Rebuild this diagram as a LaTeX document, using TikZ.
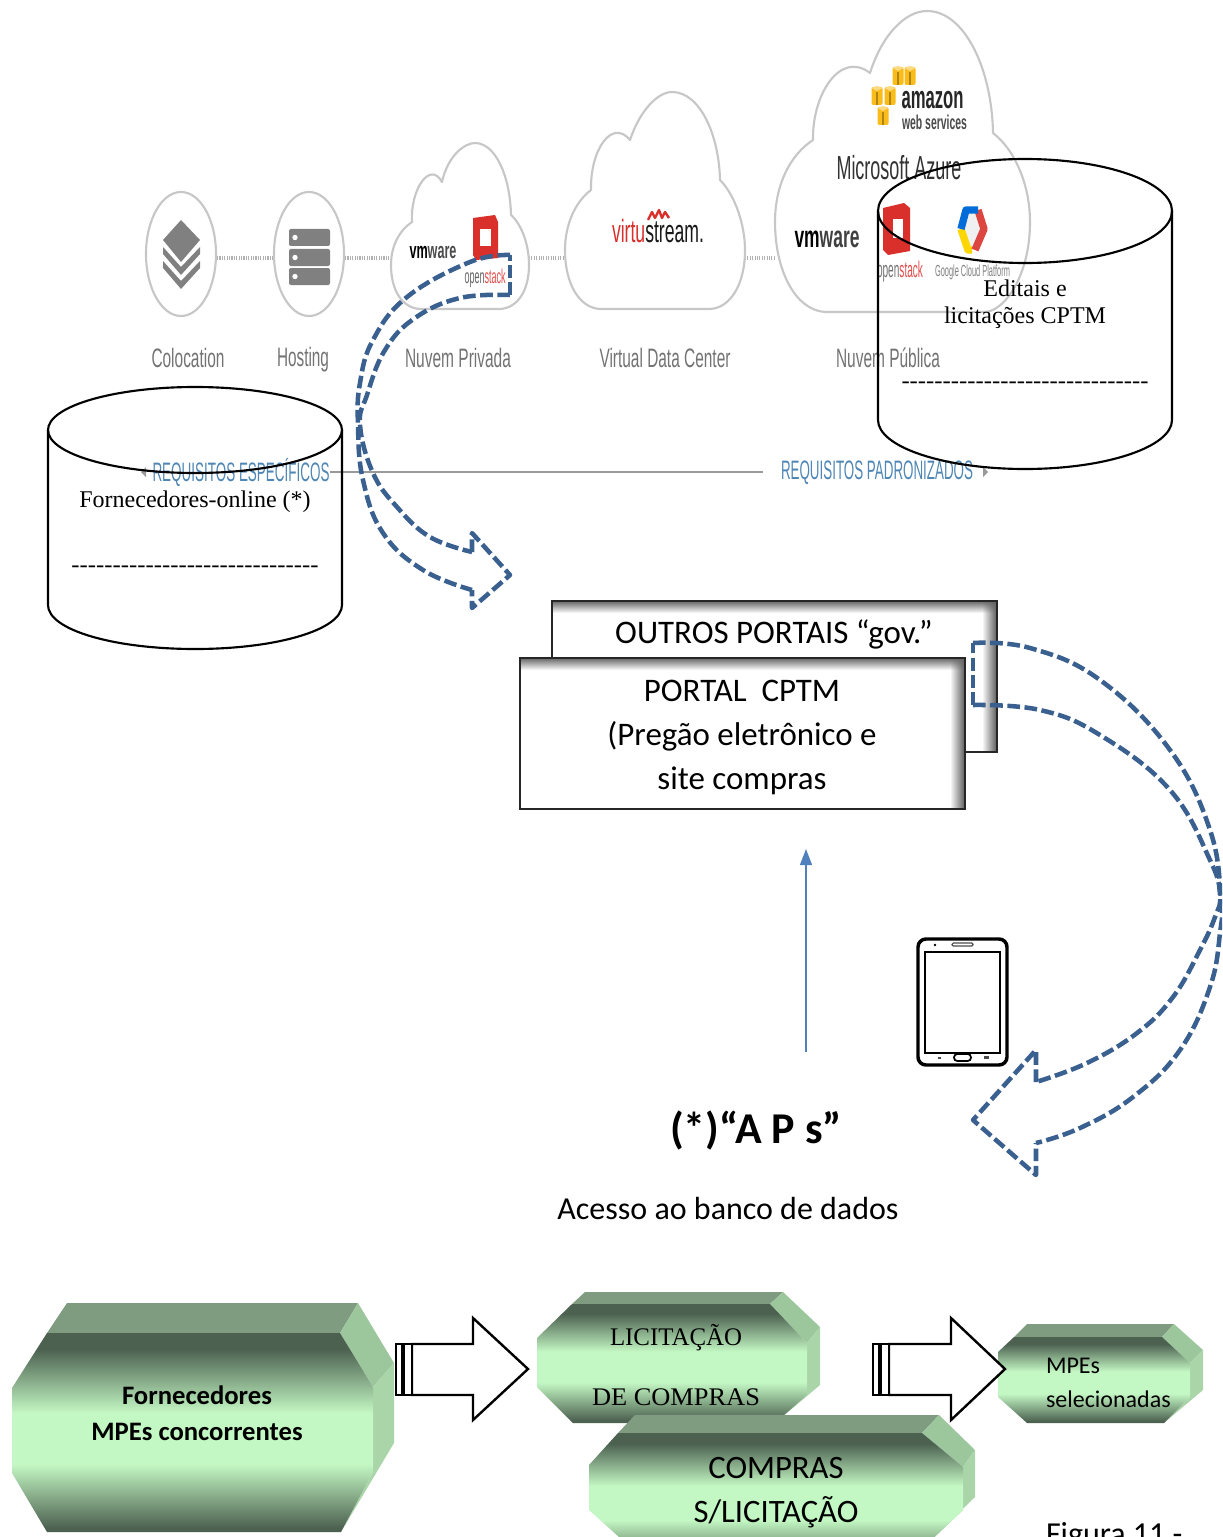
\documentclass[tikz,border=0pt]{standalone}
\usepackage{fontspec}
\usepackage{graphicx}
\setmainfont{Liberation Serif}
\newfontfamily\plainser{Liberation Serif}
\newfontfamily\carf{Carlito}
\newfontfamily\helv{Liberation Sans}
\usetikzlibrary{shapes.geometric,arrows.meta,fadings}
\newlength\pxu \setlength\pxu{0.75pt}
\newcommand\fw[2]{\resizebox{#1\pxu}{\height}{#2}}
\newcommand\fsz[1]{\fontsize{#1}{#1}\selectfont}
\definecolor{blued}{HTML}{3A6090}
\definecolor{reqblue}{HTML}{4F86B4}
\definecolor{arrowblue}{HTML}{4F81BD}
\definecolor{gemdark}{HTML}{4C6150}
\definecolor{gemlight}{HTML}{C3F7C3}
\definecolor{gemband}{HTML}{7F9C80}
\definecolor{gemfacet}{HTML}{9CC79D}
\definecolor{gemright}{HTML}{A9D5A9}
\definecolor{osred}{HTML}{D9302C}
\definecolor{amz}{HTML}{F9BC1A}
\pgfdeclareverticalshading{gemshade}{100bp}{
 color(0bp)=(gemdark); color(26bp)=(gemdark); color(42bp)=(gemlight); color(55bp)=(gemlight); color(71bp)=(gemdark); color(100bp)=(gemdark)}
\tikzset{
 txt/.style={inner sep=0pt,outer sep=0pt},
 cloudline/.style={draw=black!22,line width=1.6pt,fill=white,line join=round},
 pill/.style={ellipse,draw=black!22,line width=1.6pt,minimum width=70*\pxu,minimum height=124*\pxu,inner sep=0pt},
 dotline/.style={draw=black!30,line width=3pt,dash pattern=on 0.8pt off 1pt},
 greylabel/.style={txt,text=black!55,font=\helv\fsz{20}},
 reqlabel/.style={txt,text=reqblue,font=\helv\fsz{20}},
 cyl/.style={draw=black,line width=1.6pt},
 ser/.style={txt,font=\fsz{18}},
 hyph/.style={txt,font=\plainser\fsz{18}},
 bluedash/.style={draw=blued,line width=3.4pt,dash pattern=on 9.5pt off 3.4pt},
 cal/.style={txt,font=\carf\fsz{24.7}},
 boxline/.style={draw=black!85,line width=1.6pt},
 blockarrow/.style={draw=black,line width=1.8pt,fill=white,line join=miter},
 cube/.style={fill=amz},
}
\newcommand\cubeat[2]{\fill[cube,rounded corners=1.5pt] (#1-5.5,#2-9) rectangle (#1+5.5,#2+9);
 \fill[amz!70!black] (#1-0.7,#2-4) rectangle (#1+0.7,#2+9);
 \fill[amz!55!white] (#1-5.5,#2-8) -- (#1,#2-10) -- (#1+5.5,#2-8) -- (#1,#2-5) -- cycle;}
\begin{document}
\begin{tikzpicture}[x=0.75pt,y=-0.75pt]
\useasboundingbox (0,0) rectangle (1222,1537);
\clip (0,0) rectangle (1222,1537);

% ---- background cloud-service picture
\node[pill] (colo) at (181,254) {};
\node[pill] (host) at (309,254) {};
\coordinate (cAw) at (391,258); \coordinate (cAe) at (529,258);
\coordinate (cBw) at (565,258); \coordinate (cBe) at (745,258);
\coordinate (cCw) at (775,258);
\draw[dotline] (colo.east |- cAw) -- (host.west |- cAw);
\draw[dotline] (host.east |- cAw) -- (cAw);
\draw[dotline] (cAe) -- (cBw);
\draw[dotline] (cBe) -- (cCw);

% private cloud
\path[cloudline] (412,222) .. controls (410,190) and (430,160) .. (442,182)
 .. controls (448,155) and (465,143) .. (475,143)
 .. controls (495,143) and (510,175) .. (511,215)
 .. controls (522,225) and (529,245) .. (529,265)
 .. controls (529,290) and (518,308) .. (500,309) -- (420,309)
 .. controls (402,308) and (391,290) .. (391,265)
 .. controls (391,245) and (400,230) .. (412,222) -- cycle;
% VDC cloud
\path[cloudline] (591,190) .. controls (590,150) and (612,118) .. (630,140)
 .. controls (640,110) and (658,92) .. (672,92)
 .. controls (700,92) and (719,135) .. (720,180)
 .. controls (735,195) and (745,225) .. (745,250)
 .. controls (745,285) and (730,308) .. (710,309) -- (600,309)
 .. controls (580,308) and (565,285) .. (565,250)
 .. controls (565,225) and (575,202) .. (591,190) -- cycle;
% public cloud
\path[cloudline] (813,140) .. controls (812,95) and (840,50) .. (870,73)
 .. controls (882,35) and (905,11) .. (927,11)
 .. controls (965,11) and (992,70) .. (993,133)
 .. controls (1015,150) and (1030,185) .. (1030,222)
 .. controls (1030,275) and (1005,311) .. (985,312) -- (825,312)
 .. controls (795,310) and (775,270) .. (775,222)
 .. controls (775,185) and (790,155) .. (813,140) -- cycle;

% stack icon
\fill[black!50] (181,220) -- (200,240) -- (181,262) -- (163,240) -- cycle;
\fill[black!50] (163,247) -- (181,267) -- (200,247) -- (200,254) -- (181,275) -- (163,254) -- cycle;
\fill[black!50] (163,261) -- (181,281) -- (200,261) -- (200,268) -- (181,289) -- (163,268) -- cycle;
% server icon
\foreach \yy in {229,249,268}{
 \fill[black!50,rounded corners=1.5pt] (289,\yy) rectangle (330,\yy+17);
 \fill[white] (295,\yy+8.5) circle [radius=2pt];}

% logos - private
\node[txt] (vmA) at (433,253) {\fw{47}{\helv\fsz{17}\textbf{vm\textcolor{black!70}{ware}}}};
\path[fill=osred] (473,218) -- (495,215) -- (498,222) -- (498,258) -- (476,260) -- (473,255) -- cycle;
\fill[white] (480,229) rectangle (491,246);
\node[txt] (osA) at (485,278) {\fw{41}{\helv\fsz{15}\textcolor{black!60}{open}\textcolor{osred!85}{stack}}};
% virtustream
\node[txt] (vs) at (658,231) {\fw{92}{\helv\fsz{24}\textcolor{osred}{virtu}\textcolor{black!90}{stream.}}};
\draw[osred,line width=1.8pt,line join=round] (648,220) -- (652,212) -- (655,218) -- (659,210) -- (662,218) -- (665,212) -- (669,218);
% public cloud logos
\cubeat{898}{76}\cubeat{910}{76}\cubeat{877}{96}\cubeat{890}{96}\cubeat{883}{116}
\node[txt] (amzn) at (932.5,100) {\fw{62}{\helv\bfseries\fsz{24}\textcolor{black!85}{amazon}}};
\node[txt] (aws) at (934.5,122) {\fw{65}{\helv\bfseries\fsz{15}\textcolor{black!70}{web services}}};
\node[txt] (azure) at (899,168) {\fw{125}{\helv\fsz{25}\textcolor{black!80}{Microsoft Azure}}};
\node[txt] (vmB) at (827,239) {\fw{65}{\helv\bfseries\fsz{23}vm\textcolor{black!75}{ware}}};
\path[fill=osred] (883,208) -- (904,203) -- (910,208) -- (910,251) -- (888,255) -- (883,250) -- cycle;
\fill[white] (893,219) rectangle (903,238);
\node[txt] (osB) at (900,272) {\fw{46}{\helv\fsz{17}\textcolor{black!55}{open}\textcolor{osred!85}{stack}}};
\fill[black!6] (966,210) -- (978,210) -- (984,229) -- (975,250) -- (968,250) -- (961,229) -- cycle;
\draw[line width=5.5pt,color=yellow!75!orange,line join=round] (961,229) -- (968,250) -- (972,250);
\draw[line width=5.5pt,color=osred!90,line join=round] (978,210) -- (984,229) -- (975,250);
\draw[line width=5.5pt,color=blue!50!cyan!85!black,line join=round] (961,229) -- (966,210) -- (978,210);
\node[txt] (gcp) at (972.5,272) {\fw{75}{\helv\fsz{12}\textcolor{black!50}{Google Cloud Platform}}};

% labels
\node[greylabel] (lColo) at (188,358) {\fw{73}{Colocation}};
\node[greylabel] (lHost) at (303,360) {\fw{52}{Hosting}};
\node[greylabel] (lPriv) at (458,358) {\fw{106}{Nuvem Privada}};
\node[greylabel] (lVdc) at (665,358) {\fw{131}{Virtual Data Center}};
\node[greylabel] (lPub) at (888,358) {\fw{104}{Nuvem Pública}};
\node[reqlabel] (rEsp) at (241,472) {\fw{177}{REQUISITOS ESPECÍFICOS}};
\node[reqlabel] (rPad) at (877,473) {\fw{192}{REQUISITOS PADRONIZADOS}};
\coordinate (lineEnd) at (763,472);
\fill[black!40] (146,467) -- (141,472) -- (146,477) -- cycle;
\fill[black!40] (983,467) -- (988,472) -- (983,477) -- cycle;
\draw[black!40,line width=1.4pt] (rEsp.east) -- (lineEnd);

% ---- cylinders
\draw[cyl] (1025,211) ellipse [x radius=147*0.75pt,y radius=52*0.75pt];
\draw[cyl] (878,211) -- (878,420) .. controls (878,447) and (944,469) .. (1025,469)
 .. controls (1106,469) and (1172,447) .. (1172,420) -- (1172,211);
\node[ser] (ed1) at (1025,288) {Editais e};
\node[ser] (ed2) at (1025,318) {licitações CPTM};
\node[hyph] (ed3) at (1025,385) {\fw{247}{------------------------------}};

\draw[cyl] (195,430) ellipse [x radius=147*0.75pt,y radius=43*0.75pt];
\draw[cyl] (48,430) -- (48,605) .. controls (48,630) and (114,649) .. (195,649)
 .. controls (276,649) and (342,630) .. (342,605) -- (342,430);
\node[ser] (fo1) at (195,502) {Fornecedores-online (*)};
\node[hyph] (fo2) at (195,569) {\fw{247}{------------------------------}};

% ---- portal boxes
\fill[white] (552,601) rectangle (997,752);
\fill[black!65,path fading=west] (982,601) rectangle (997,752);
\fill[black!60,path fading=south] (552,601) rectangle (997,613);
\draw[boxline] (552,601) rectangle (997,752);
\node[cal] (out) at (774,634) {OUTROS PORTAIS “gov.”};
\fill[white] (520,658) rectangle (965,809);
\fill[black!65,path fading=west] (950,658) rectangle (965,809);
\fill[black!60,path fading=south] (520,658) rectangle (965,670);
\draw[boxline] (520,658) rectangle (965,809);
\node[cal] (p1) at (742,691) {PORTAL\ \ CPTM};
\node[cal] (p2) at (742,736) {(Pregão eletrônico e};
\node[cal] (p3) at (742,781) {site compras};

% ---- dashed curved arrows
% left
\coordinate (la1) at (510,255); \coordinate (la2) at (510,295);
\coordinate (lb1) at (472,590); \coordinate (lb2) at (472,552);
\coordinate (lh1) at (472,608); \coordinate (lh2) at (510,575); \coordinate (lh3) at (472,533);
\draw[bluedash] (la2) -- (la1);
\draw[bluedash] plot[smooth,tension=0.7] coordinates {(la1) (470,262) (407,297) (373,340) (360,383) (358,425) (363,480) (383,533) (423,570) (lb1)};
\draw[bluedash] plot[smooth,tension=0.7] coordinates {(la2) (460,298) (415,318) (385,350) (367,395) (360,425) (373,473) (397,507) (430,537) (lb2)};
\draw[bluedash,line join=round] (lb2) -- (lh3) -- (lh2) -- (lh1) -- (lb1);
% right
\coordinate (ra1) at (973,643); \coordinate (ra2) at (973,705);
\coordinate (rb1) at (1036,1082); \coordinate (rb2) at (1036,1143);
\coordinate (rh1) at (1036,1050); \coordinate (rh2) at (973,1120); \coordinate (rh3) at (1036,1175);
\draw[bluedash] (ra2) -- (ra1);
\draw[bluedash] plot[smooth,tension=0.7] coordinates {(ra1) (1030,648) (1100,680) (1170,750) (1210,830) (1221,900) (1220,933) (1210,987) (1180,1050) (1133,1097) (1080,1128) (rb2)};
\draw[bluedash] plot[smooth,tension=0.7] coordinates {(ra2) (1040,710) (1100,735) (1170,790) (1210,860) (1220,895) (1215,917) (1200,950) (1173,997) (1137,1033) (1087,1063) (rb1)};
\draw[bluedash,line join=round] (rb1) -- (rh1) -- (rh2) -- (rh3) -- (rb2);

% up arrow
\coordinate (upA) at (806,1052); \coordinate (upB) at (806,849);
\draw[color=arrowblue,line width=1pt,-{Triangle[length=12pt,width=9pt]}] (upA) -- (upB);

% phone
\draw[black,line width=2.6pt,rounded corners=6pt] (918,939) rectangle (1007,1065);
\draw[black,line width=1.5pt] (925,952) rectangle (1000,1053);
\draw[black!70,line width=0.9pt,rounded corners=1pt] (952,943) rectangle (973,946);
\fill[black] (935,945) circle [radius=1pt];
\draw[black,line width=1.3pt,rounded corners=2.5pt] (954,1054) rectangle (971,1061);
\fill[black!70] (938,1057) rectangle (941,1059);
\fill[black!70] (984,1056) rectangle (989,1059);

% APs
\node[txt,font=\carf\bfseries\fsz{33}] (aps) at (756,1130) {(*)“A P s”};
\node[txt,font=\carf\fsz{24}] (ace) at (728,1208) {Acesso ao banco de dados};

% ---- gems
% Fornecedores
\fill[gemband] (67,1303) -- (358,1303) -- (340,1333) -- (47,1333) -- cycle;
\fill[gemfacet] (358,1303) -- (394,1363) -- (373,1387) -- (340,1333) -- cycle;
\fill[gemright] (373,1387) -- (394,1363) -- (394,1443) -- (341,1532) -- (373,1472) -- cycle;
\shade[shading=gemshade] (47,1333) -- (340,1333) -- (373,1387) -- (373,1472) -- (341,1532) -- (47,1532) -- (12,1473) -- (12,1388) -- cycle;
\node[txt,font=\carf\bfseries\fsz{20}] (g11) at (197,1395) {Fornecedores};
\node[txt,font=\carf\bfseries\fsz{20}] (g12) at (197,1432) {MPEs concorrentes};
% Licitacao
\fill[gemband] (585,1292) -- (783,1292) -- (770,1304) -- (572,1304) -- cycle;
\fill[gemfacet] (783,1292) -- (820,1327) -- (807,1343) -- (770,1304) -- cycle;
\fill[gemright] (807,1343) -- (820,1327) -- (820,1385) -- (775,1423) -- (807,1395) -- cycle;
\shade[shading=gemshade] (572,1304) -- (770,1304) -- (807,1343) -- (807,1395) -- (775,1423) -- (573,1423) -- (537,1387) -- (537,1338) -- cycle;
\node[txt,font=\fsz{19}] (g21) at (676,1338) {\fw{132}{LICITAÇÃO}};
\node[txt,font=\fsz{19}] (g22) at (676,1397) {\fw{168}{DE COMPRAS}};
% Compras
\fill[gemband] (635,1415) -- (939,1415) -- (922,1433) -- (618,1433) -- cycle;
\fill[gemfacet] (939,1415) -- (975,1450) -- (963,1467) -- (922,1433) -- cycle;
\fill[gemright] (963,1467) -- (975,1450) -- (975,1497) -- (905,1565) -- (963,1510) -- cycle;
\shade[shading=gemshade] (618,1433) -- (922,1433) -- (963,1467) -- (963,1510) -- (905,1565) -- (650,1565) -- (589,1510) -- (589,1465) -- cycle;
\node[txt,font=\carf\fsz{24.5}] (g31) at (776,1468) {COMPRAS};
\node[txt,font=\carf\fsz{24.5}] (g32) at (776,1512) {S/LICITAÇÃO};
% MPEs
\fill[gemband] (1027,1324) -- (1174,1324) -- (1162,1337) -- (1014,1337) -- cycle;
\fill[gemfacet] (1174,1324) -- (1203,1350) -- (1190,1363) -- (1162,1337) -- cycle;
\fill[gemright] (1190,1363) -- (1203,1350) -- (1203,1390) -- (1164,1423) -- (1190,1397) -- cycle;
\shade[shading=gemshade] (1014,1337) -- (1162,1337) -- (1190,1363) -- (1190,1397) -- (1164,1423) -- (1027,1423) -- (998,1397) -- (998,1352) -- cycle;
\node[txt,font=\carf\fsz{18},anchor=west] (g41) at (1046,1366) {MPEs};
\node[txt,font=\carf\fsz{18},anchor=west] (g42) at (1046,1399) {selecionadas};

% block arrows
\path[blockarrow] (412,1344) -- (473,1344) -- (473,1318) -- (528,1369) -- (473,1420) -- (473,1395) -- (412,1395) -- cycle;
\draw[black,line width=1.3pt,fill=white] (396,1344) rectangle (402,1395);
\draw[black,line width=1.3pt,fill=white] (404,1344) rectangle (412,1395);
\path[blockarrow] (889,1344) -- (951,1344) -- (951,1318) -- (1005,1369) -- (951,1420) -- (951,1395) -- (889,1395) -- cycle;
\draw[black,line width=1.3pt,fill=white] (873,1344) rectangle (879,1395);
\draw[black,line width=1.3pt,fill=white] (881,1344) rectangle (889,1395);

% caption
\node[txt,font=\carf\fsz{24},anchor=base west] (fig) at (1046,1544) {Figura 11 -};
\end{tikzpicture}
\end{document}
